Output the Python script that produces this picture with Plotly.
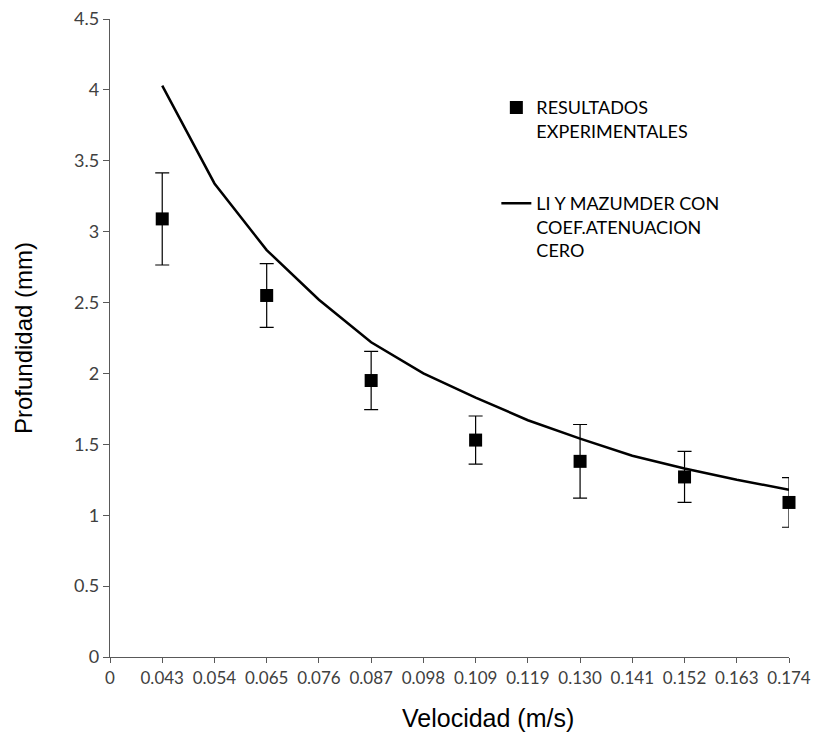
import plotly.graph_objects as go

# Category axis: velocities (m/s) shown as evenly spaced labels
vel_labels = ["0", "0.043", "0.054", "0.065", "0.076", "0.087", "0.098",
              "0.109", "0.119", "0.130", "0.141", "0.152", "0.163", "0.174"]

# Li y Mazumder model (zero attenuation), one value per velocity from 0.043
model_depth = [4.03, 3.34, 2.87, 2.52, 2.22, 2.00, 1.83, 1.67, 1.54, 1.42,
               1.33, 1.25, 1.18]

# Experimental results
exp_vel = ["0.043", "0.065", "0.087", "0.109", "0.130", "0.152", "0.174"]
exp_depth = [3.09, 2.55, 1.95, 1.53, 1.38, 1.27, 1.09]
exp_err = [0.325, 0.225, 0.205, 0.17, 0.26, 0.18, 0.175]

pos = {lab: i for i, lab in enumerate(vel_labels)}
model_x = [pos[v] for v in vel_labels[1:]]
exp_x = [pos[v] for v in exp_vel]

fig = go.Figure()

fig.add_trace(go.Scatter(
    x=exp_x, y=exp_depth, mode="markers",
    name="RESULTADOS<br>EXPERIMENTALES",
    legendgroup="exp", cliponaxis=False,
    marker=dict(symbol="square", size=13, color="#000000"),
    error_y=dict(type="data", array=exp_err, visible=True,
                 color="#000000", thickness=1.2, width=7),
))

fig.add_trace(go.Scatter(
    x=model_x, y=model_depth, mode="lines",
    name="LI Y MAZUMDER CON<br>COEF.ATENUACION<br>CERO",
    legendgroup="model", cliponaxis=False,
    line=dict(color="#000000", width=2.5),
))

axis_col = "#595959"
tick_font = dict(family="Lato, Open Sans, sans-serif", size=18, color="#404040")
title_font = dict(family="Liberation Sans, Arial, sans-serif", size=24, color="#000000")

fig.update_layout(
    width=813, height=735,
    margin=dict(l=110, r=24, t=19, b=78, autoexpand=False),
    paper_bgcolor="white", plot_bgcolor="white",
    showlegend=True,
    legend=dict(
        x=0.569, y=0.89, xanchor="left", yanchor="top",
        traceorder="grouped", tracegroupgap=46, valign="top",
        font=dict(family="Lato, Open Sans, sans-serif", size=18, color="#000000"),
        bgcolor="rgba(0,0,0,0)", itemwidth=30,
    ),
    xaxis=dict(
        range=[0, 13], tickmode="array",
        tickvals=list(range(len(vel_labels))), ticktext=vel_labels,
        showgrid=False, zeroline=False, automargin=False,
        showline=True, linecolor=axis_col, linewidth=1.3,
        ticks="outside", ticklen=5, tickcolor=axis_col,
        tickfont=dict(tick_font, size=17),
    ),
    yaxis=dict(
        range=[0, 4.5], dtick=0.5, tickformat="~g",
        showgrid=False, zeroline=False, automargin=False,
        showline=True, linecolor=axis_col, linewidth=1.3,
        ticks="outside", ticklen=6, tickcolor=axis_col,
        tickfont=tick_font,
        title=dict(text="Profundidad (mm)", standoff=34, font=title_font),
    ),
)

# X axis title, centred on the chart area below the tick labels
fig.add_annotation(
    text="Velocidad (m/s)", xref="paper", yref="paper",
    x=0.557, y=-0.0956, xanchor="center", yanchor="middle",
    showarrow=False, font=dict(title_font, size=25),
)

fig.write_html("out.html")
